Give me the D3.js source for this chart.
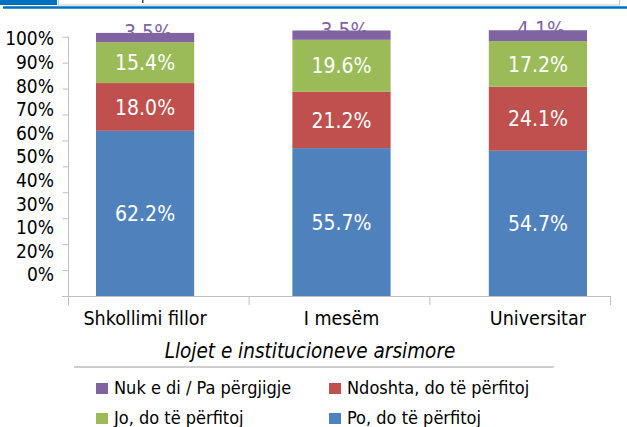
<!DOCTYPE html>
<html>
<head>
<meta charset="utf-8">
<script src="https://cdn.jsdelivr.net/npm/d3@7"></script>
<style>
  body { margin: 0; background: #fff; }
  svg { display: block; font-family: "Liberation Sans Narrow", "DejaVu Sans Condensed", "Roboto Condensed", "Noto Sans", sans-serif; }
</style>
</head>
<body>
<div id="chart"></div>
<script>
const categories = ["Shkollimi fillor", "I mesëm", "Universitar"];
const seriesNames = ["Po, do të përfitoj", "Ndoshta, do të përfitoj", "Jo, do të përfitoj", "Nuk e di / Pa përgjigje"];
const po = [62.2, 55.7, 54.7];
const ndoshta = [18.0, 21.2, 24.1];
const jo = [15.4, 19.6, 17.2];
const nukEDi = [3.5, 3.5, 4.1];
const yTicks = [0, 10, 20, 30, 40, 50, 60, 70, 80, 90, 100];
const yTickLabels = ["100%", "90%", "80%", "70%", "60%", "50%", "40%", "30%", "10%", "20%", "0%"];
const xTitle = "Llojet e institucioneve arsimore";
const legendOrder = [3, 1, 2, 0];

const colors = ["#4f81bd", "#c0504d", "#9bbb59", "#8064a2"];
const w = 627;
const h = 427;

const table = categories.map((c, i) => ({
  cat: c,
  [seriesNames[0]]: po[i],
  [seriesNames[1]]: ndoshta[i],
  [seriesNames[2]]: jo[i],
  [seriesNames[3]]: nukEDi[i],
}));
const stacked = d3.stack().keys(seriesNames)(table);

const svg = d3.select("#chart").append("svg").attr("width", w).attr("height", h);

// header strip (cut off at top)
svg.append("rect").attr("x", 0).attr("y", 0).attr("width", 57).attr("height", 5).attr("fill", "#0070c0");
svg.append("rect").attr("x", 58.5).attr("y", -3).attr("width", 561).attr("height", 8)
  .attr("fill", "#fff").attr("stroke", "#b4cde2");
svg.append("rect").attr("x", 142).attr("y", 0).attr("width", 1.5).attr("height", 3).attr("fill", "#444");
svg.append("line").attr("x1", 3).attr("x2", w).attr("y1", 7.5).attr("y2", 7.5)
  .attr("stroke", "#0070c0").attr("stroke-width", 2.5);

const x = d3.scaleBand().domain(categories).range([96, 587]).paddingInner(0.5);
const xAxisScale = d3.scaleBand().domain(categories).range([68, 610]);
const y = d3.scaleLinear().domain([0, 100]).range([296, 30.5]);
const yAxisScale = d3.scaleLinear().domain([0, 100]).range([296, 36.7]);
const yLabel = d3.scalePoint().domain(yTickLabels).range([38.5, 274.5]);

// value labels of the top series sit above the bars, partly hidden by them
const topSeries = stacked[3];
svg.append("g")
  .selectAll("text")
  .data(topSeries)
  .enter()
  .append("text")
  .attr("x", (d) => x(d.data.cat) + x.bandwidth() / 2 + 3)
  .attr("y", (d) => y(d[1]) + 7)
  .attr("text-anchor", "middle")
  .attr("font-size", 21)
  .attr("fill", "#8064a2")
  .text((d) => (d[1] - d[0]).toFixed(1) + "%");

const layers = svg.append("g")
  .selectAll("g")
  .data(stacked)
  .enter()
  .append("g")
  .attr("fill", (d, i) => colors[i]);
layers.selectAll("rect")
  .data((d) => d)
  .enter()
  .append("rect")
  .attr("x", (d) => x(d.data.cat))
  .attr("width", x.bandwidth())
  .attr("y", (d) => y(d[1]))
  .attr("height", (d) => y(d[0]) - y(d[1]));

svg.append("g")
  .selectAll("g")
  .data(stacked.slice(0, 3))
  .enter()
  .append("g")
  .selectAll("text")
  .data((d) => d)
  .enter()
  .append("text")
  .attr("x", (d) => x(d.data.cat) + x.bandwidth() / 2)
  .attr("y", (d) => (y(d[0]) + y(d[1])) / 2)
  .attr("dy", "0.36em")
  .attr("text-anchor", "middle")
  .attr("font-size", 21)
  .attr("fill", "#fff")
  .text((d) => (d[1] - d[0]).toFixed(1) + "%");

// y axis
const yAxis = d3.axisLeft(yAxisScale).tickValues(yTicks).tickSize(6).tickFormat("");
const gy = svg.append("g").attr("transform", "translate(68.5,0)").call(yAxis);
gy.select(".domain").remove();
gy.selectAll("line").attr("stroke", "#bfbfbf");
svg.append("line").attr("x1", 68.5).attr("x2", 68.5).attr("y1", 36.7).attr("y2", 305)
  .attr("stroke", "#bfbfbf");
svg.append("g")
  .selectAll("text")
  .data(yTickLabels)
  .enter()
  .append("text")
  .attr("x", 54)
  .attr("y", (d) => yLabel(d))
  .attr("dy", "0.36em")
  .attr("text-anchor", "end")
  .attr("font-size", 19)
  .attr("fill", "#000")
  .text((d) => d);

// x axis
svg.append("line").attr("x1", 62).attr("x2", 610.5).attr("y1", 296.5).attr("y2", 296.5)
  .attr("stroke", "#bfbfbf");
svg.append("g")
  .selectAll("line")
  .data(categories.concat([null]))
  .enter()
  .append("line")
  .attr("x1", (d) => (d ? xAxisScale(d) : xAxisScale.range()[1]) + 0.5)
  .attr("x2", (d) => (d ? xAxisScale(d) : xAxisScale.range()[1]) + 0.5)
  .attr("y1", 296)
  .attr("y2", 305)
  .attr("stroke", "#bfbfbf");
svg.append("g")
  .selectAll("text")
  .data(categories)
  .enter()
  .append("text")
  .attr("x", (d) => x(d) + x.bandwidth() / 2)
  .attr("y", 325)
  .attr("text-anchor", "middle")
  .attr("font-size", 19.5)
  .attr("fill", "#000")
  .text((d) => d);

svg.append("text")
  .attr("x", 310)
  .attr("y", 358)
  .attr("text-anchor", "middle")
  .attr("font-size", 20.5)
  .attr("font-style", "italic")
  .attr("fill", "#000")
  .text(xTitle);
svg.append("line").attr("x1", 74).attr("x2", 554).attr("y1", 367).attr("y2", 367)
  .attr("stroke", "#bfbfbf").attr("stroke-width", 1.5);

// legend
const legend = svg.append("g")
  .selectAll("g")
  .data(legendOrder)
  .enter()
  .append("g")
  .attr("transform", (d, i) => `translate(${i % 2 === 0 ? 96 : 329},${i < 2 ? 383 : 413})`);
legend.append("rect")
  .attr("width", 12)
  .attr("height", 11)
  .attr("fill", (d) => colors[d]);
legend.append("text")
  .attr("x", 18)
  .attr("y", 11)
  .attr("font-size", 18)
  .attr("fill", "#000")
  .text((d) => seriesNames[d]);
</script>
</body>
</html>
